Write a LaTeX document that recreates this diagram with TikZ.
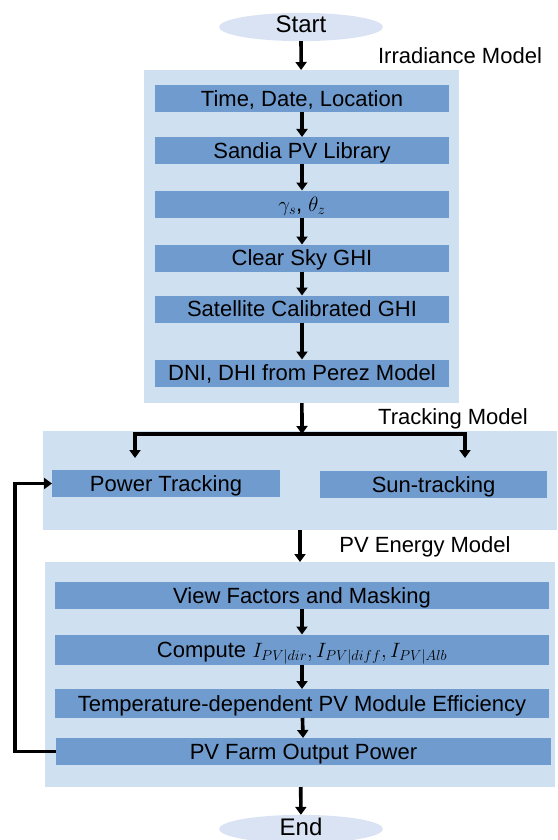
\documentclass[tikz,border=0pt]{standalone}
\usepackage{fontspec}
\setmainfont{Liberation Sans}
\usepackage{tikz}
\usetikzlibrary{arrows.meta,shapes.geometric}
\definecolor{panelblue}{RGB}{207,224,241}
\definecolor{stageblue}{RGB}{112,155,206}
\definecolor{termblue}{RGB}{218,227,243}
\tikzset{
  panelbox/.style={fill=panelblue,inner sep=0,outer sep=0},
  stagebox/.style={fill=stageblue,inner sep=0,outer sep=0,minimum height=27,
    text height=16,text depth=1,font=\fontsize{22}{24}\selectfont},
  termbox/.style={ellipse,fill=termblue,inner sep=0,outer sep=0,minimum width=164,
    minimum height=28,text height=16,text depth=4,font=\fontsize{24}{26}\selectfont},
  caption/.style={inner sep=0,font=\fontsize{22}{24}\selectfont},
  flow/.style={line width=3.6pt,line join=miter,-{Triangle[width=11pt,length=8pt]}}
}

\begin{document}
\begin{tikzpicture}[x=1pt,y=-1pt]
        \useasboundingbox (0,0) rectangle (557,840);
        \begin{scope}
          \node[termbox] (start) at (301,27) {Start};
          \node[panelbox,minimum width=315,minimum height=333] (irr) at (301.5,236.5) {};
          \node[caption] (irrlabel) at (460,56) {Irradiance Model};
          \node[stagebox,minimum width=294] (time) at (302,99) {Time, Date, Location};
          \node[stagebox,minimum width=294] (sandia) at (302,150.5) {Sandia PV Library};
          \node[stagebox,minimum width=294] (angles) at (302,204) {$\gamma_s$, $\theta_z$};
          \node[stagebox,minimum width=294] (clear) at (302,258) {Clear Sky GHI};
          \node[stagebox,minimum width=294] (sat) at (302,309) {Satellite Calibrated GHI};
          \node[stagebox,minimum width=294] (perez) at (302,373) {DNI, DHI from Perez Model};
          \draw[flow] (start) -- (irr);
          \foreach \a/\b in {time/sandia,sandia/angles,angles/clear,clear/sat,sat/perez}
            \draw[flow] (\a) -- (\b);
        \end{scope}
        \begin{scope}
          \node[panelbox,minimum width=514,minimum height=99] (trk) at (300,480.5) {};
          \node[caption] (trklabel) at (453,419) {Tracking Model};
          \node[stagebox,minimum width=228] (power) at (166,483.5) {Power Tracking};
          \node[stagebox,minimum width=227] (sun) at (433.5,484.5) {Sun-tracking};
          \coordinate (fork) at (302,434);
          \coordinate (powerin) at (135,458);
          \coordinate (sunin) at (465,458);
          \draw[flow] (irr) -- (fork);
          \draw[flow] (fork) -| (powerin);
          \draw[flow] (fork) -| (sunin);
        \end{scope}
        \begin{scope}
          \node[panelbox,minimum width=510,minimum height=225] (pv) at (300,674.5) {};
          \node[caption] (pvlabel) at (425,547) {PV Energy Model};
          \node[stagebox,minimum width=494] (view) at (302,595.5) {View Factors and Masking};
          \node[stagebox,minimum width=494,minimum height=30] (irrpv) at (302,649.5)
            {Compute $I_{PV|dir}, I_{PV|diff}, I_{PV|Alb}$};
          \node[stagebox,minimum width=494,minimum height=29] (eff) at (302,703.5)
            {Temperature-dependent PV Module Efficiency};
          \node[stagebox,minimum width=495] (farm) at (303.5,751.5) {PV Farm Output Power};
          \node[termbox] (end) at (301,829) {End};
          \coordinate (loop) at (15,600);
          \draw[flow] (trk) -- (pv);
          \foreach \a/\b in {view/irrpv,irrpv/eff,eff/farm}
            \draw[flow] (\a) -- (\b);
          \draw[flow] (pv) -- (end);
          \draw[flow] (farm.west) -| (loop) |- (power.west);
        \end{scope}
      \end{tikzpicture}
\end{document}
